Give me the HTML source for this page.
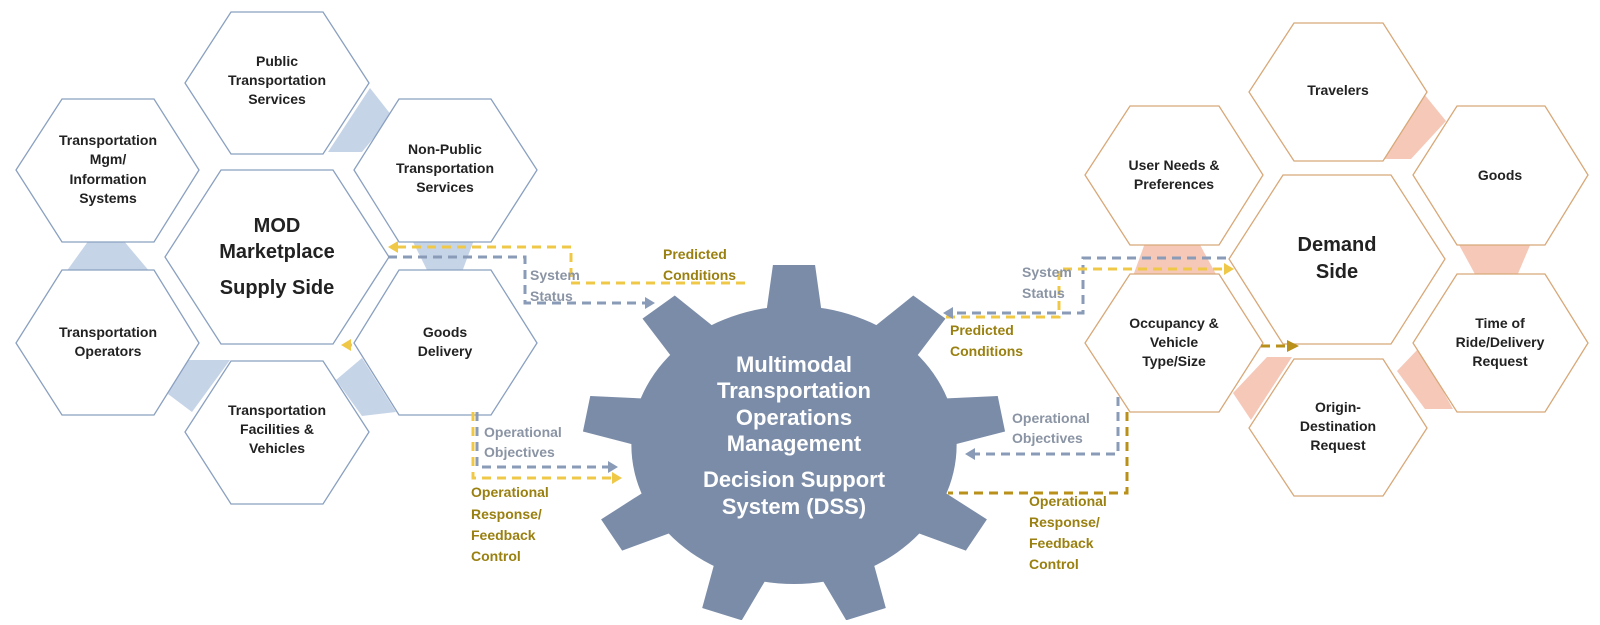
<!DOCTYPE html>
<html><head><meta charset="utf-8"><style>
html,body{margin:0;padding:0;background:#fff;}
svg text{font-family:"Liberation Sans",sans-serif;font-weight:bold;}
</style></head><body>
<svg width="1600" height="620" viewBox="0 0 1600 620" xmlns="http://www.w3.org/2000/svg">
<!-- blue connectors -->
<g fill="#c6d4e8">
<polygon points="370,88 392,116 362,152 328,152"/>
<polygon points="89,240 123,240 150,272 66,272"/>
<polygon points="412,240 474,240 462,272 428,272"/>
<polygon points="184,360 230,360 192,412 168,394"/>
<polygon points="362,358 396,412 362,416 336,380"/>
</g>
<g fill="#f5c8b8">
<polygon points="1424,94 1446,121 1411,159 1384,159"/>
<polygon points="1145,243 1199,243 1217,276 1133,276"/>
<polygon points="1458,243 1531,243 1517,276 1476,276"/>
<polygon points="1233,393 1251,420 1292,357 1267,357"/>
<polygon points="1397,371 1419,348 1453,409 1425,409"/>
</g>
<!-- left hexes -->
<g fill="#fff" stroke="#8aa0c0" stroke-width="1.3">
<polygon points="231,12 323,12 369,83 323,154 231,154 185,83"/>
<polygon points="62,99 154,99 199,170 154,242 62,242 16,170"/>
<polygon points="399,99 491,99 537,170 491,242 399,242 354,170"/>
<polygon points="221,170 333,170 389,257 333,344 221,344 165,257"/>
<polygon points="62,270 154,270 199,343 154,415 62,415 16,343"/>
<polygon points="399,270 491,270 537,343 491,415 399,415 354,343"/>
<polygon points="231,361 323,361 369,432 323,504 231,504 185,432"/>
</g>
<!-- right hexes -->
<g fill="#fff" stroke="#d8a878" stroke-width="1.3">
<polygon points="1294,23 1383,23 1427,92 1383,161 1294,161 1249,92"/>
<polygon points="1130,106 1219,106 1263,175 1219,245 1130,245 1085,175"/>
<polygon points="1457,106 1545,106 1588,175 1545,245 1457,245 1413,175"/>
<polygon points="1283,175 1391,175 1445,259 1391,344 1283,344 1229,259"/>
<polygon points="1130,274 1219,274 1263,343 1219,412 1130,412 1085,343"/>
<polygon points="1457,274 1545,274 1588,343 1545,412 1457,412 1413,343"/>
<polygon points="1294,359 1383,359 1427,428 1383,496 1294,496 1249,428"/>
</g>
<!-- gear -->
<g fill="#7b8ca8" transform="translate(794,445) scale(1.17,1)">
<circle r="139"/>
<polygon id="t" points="-24,-130 24,-130 18,-180 -18,-180"/>
<use href="#t" transform="rotate(40)"/><use href="#t" transform="rotate(80)"/>
<use href="#t" transform="rotate(120)"/><use href="#t" transform="rotate(160)"/>
<use href="#t" transform="rotate(200)"/><use href="#t" transform="rotate(240)"/>
<use href="#t" transform="rotate(280)"/><use href="#t" transform="rotate(320)"/>
</g>
<!-- connectors -->
<g fill="none" stroke-width="3" stroke-dasharray="9,6">
<polyline stroke="#f0c848" points="745,283 571,283 571,247 398,247"/>
<polyline stroke="#8a9bb8" points="388,257 525,257 525,303 645,303"/>
<polyline stroke="#f0c848" points="473,412 473,478 612,478"/>
<polyline stroke="#8a9bb8" points="477,412 477,467 608,467"/>
<polyline stroke="#8a9bb8" points="1226,258 1083,258 1083,313 953,313"/>
<polyline stroke="#f0c848" points="1222,269 1059,269 1059,317 943,317"/>
<polyline stroke="#8a9bb8" points="1118,397 1118,454 975,454"/>
<polyline stroke="#b8901a" points="1127,412 1127,493 948,493"/>
<polyline stroke="#b8901a" points="1261,346 1288,346"/>
<polyline stroke="#f0c848" points="352,345 344,345" stroke-dasharray="none"/>
</g>
<g>
<polygon fill="#f0c848" points="388,247 398,241 398,253"/>
<polygon fill="#8a9bb8" points="655,303 645,297 645,309"/>
<polygon fill="#8a9bb8" points="618,467 608,461 608,473"/>
<polygon fill="#f0c848" points="622,478 612,472 612,484"/>
<polygon fill="#8a9bb8" points="943,313 953,307 953,319"/>
<polygon fill="#f0c848" points="1234,269 1224,263 1224,275"/>
<polygon fill="#8a9bb8" points="965,454 975,448 975,460"/>
<polygon fill="#b8901a" points="1299,346 1287,340 1287,352"/>
<polygon fill="#f0c848" points="341,345 351,339 351,351"/>
</g>
<!-- left labels -->
<g font-size="14" fill="#222" text-anchor="middle">
<text x="277" y="66">Public</text><text x="277" y="85">Transportation</text><text x="277" y="104">Services</text>
<text x="108" y="145">Transportation</text><text x="108" y="164">Mgm/</text><text x="108" y="184">Information</text><text x="108" y="203">Systems</text>
<text x="445" y="154">Non-Public</text><text x="445" y="173">Transportation</text><text x="445" y="192">Services</text>
<text x="108" y="337">Transportation</text><text x="108" y="356">Operators</text>
<text x="445" y="337">Goods</text><text x="445" y="356">Delivery</text>
<text x="277" y="415">Transportation</text><text x="277" y="434">Facilities &amp;</text><text x="277" y="453">Vehicles</text>
<text x="277" y="232" font-size="20">MOD</text><text x="277" y="258" font-size="20">Marketplace</text><text x="277" y="294" font-size="20">Supply Side</text>
</g>
<!-- right labels -->
<g font-size="14" fill="#222" text-anchor="middle">
<text x="1338" y="95">Travelers</text>
<text x="1174" y="170">User Needs &amp;</text><text x="1174" y="189">Preferences</text>
<text x="1500" y="180">Goods</text>
<text x="1337" y="251" font-size="20">Demand</text><text x="1337" y="278" font-size="20">Side</text>
<text x="1174" y="328">Occupancy &amp;</text><text x="1174" y="347">Vehicle</text><text x="1174" y="366">Type/Size</text>
<text x="1500" y="328">Time of</text><text x="1500" y="347">Ride/Delivery</text><text x="1500" y="366">Request</text>
<text x="1338" y="412">Origin-</text><text x="1338" y="431">Destination</text><text x="1338" y="450">Request</text>
</g>
<!-- gear text -->
<g font-size="22" fill="#fff" text-anchor="middle">
<text x="794" y="372">Multimodal</text><text x="794" y="398">Transportation</text><text x="794" y="425">Operations</text><text x="794" y="451">Management</text>
<text x="794" y="487">Decision Support</text><text x="794" y="514">System (DSS)</text>
</g>
<!-- connector labels -->
<g font-size="14">
<text x="663" y="259" fill="#9a8010">Predicted</text><text x="663" y="280" fill="#9a8010">Conditions</text>
<text x="530" y="280" fill="#8a94a4" font-weight="normal">System</text><text x="530" y="301" fill="#8a94a4" font-weight="normal">Status</text>
<text x="484" y="437" fill="#8a94a4" font-weight="normal">Operational</text><text x="484" y="457" fill="#8a94a4" font-weight="normal">Objectives</text>
<text x="471" y="497" fill="#9a8010">Operational</text><text x="471" y="519" fill="#9a8010">Response/</text><text x="471" y="540" fill="#9a8010">Feedback</text><text x="471" y="561" fill="#9a8010">Control</text>
<text x="1022" y="277" fill="#8a94a4" font-weight="normal">System</text><text x="1022" y="298" fill="#8a94a4" font-weight="normal">Status</text>
<text x="950" y="335" fill="#9a8010">Predicted</text><text x="950" y="356" fill="#9a8010">Conditions</text>
<text x="1012" y="423" fill="#8a94a4" font-weight="normal">Operational</text><text x="1012" y="443" fill="#8a94a4" font-weight="normal">Objectives</text>
<text x="1029" y="506" fill="#9a8010">Operational</text><text x="1029" y="527" fill="#9a8010">Response/</text><text x="1029" y="548" fill="#9a8010">Feedback</text><text x="1029" y="569" fill="#9a8010">Control</text>
</g>
</svg>
</body></html>
